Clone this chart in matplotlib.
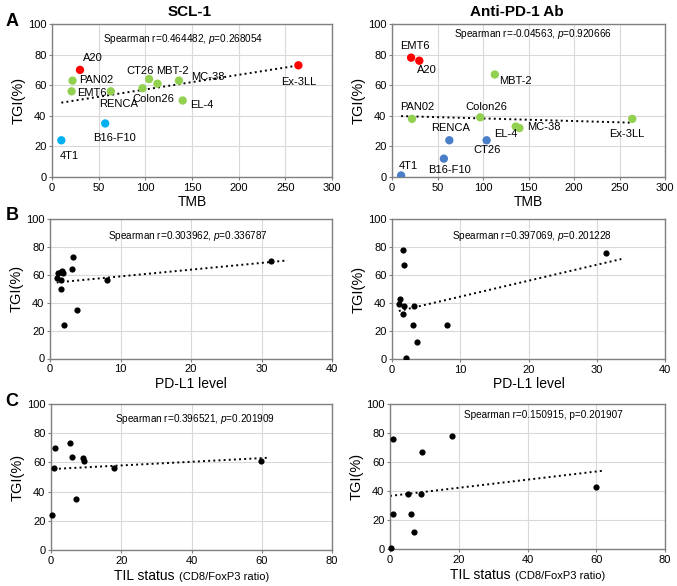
import numpy as np
import matplotlib
matplotlib.use('Agg')
import matplotlib.pyplot as plt
from matplotlib.offsetbox import TextArea, HPacker, AnnotationBbox

plt.rcParams['font.family'] = ['Liberation Sans', 'DejaVu Sans']
plt.rcParams['mathtext.fontset'] = 'custom'
plt.rcParams['mathtext.rm'] = 'Liberation Sans'
plt.rcParams['mathtext.it'] = 'Liberation Sans:italic'

# ---- data ----
models = ['4T1', 'B16-F10', 'RENCA', 'CT26', 'EL-4', 'MC-38', 'MBT-2',
          'Colon26', 'PAN02', 'EMT6', 'A20', 'Ex-3LL']
tmb = [10, 57, 63, 104, 140, 136, 113, 97, 22, 21, 30, 264]

tgi_scl = [24, 35, 56, 64, 50, 63, 61, 58, 63, 56, 70, 73]
tgi_pd1 = [1, 12, 24, 24, 32, 33, 67, 39, 38, 78, 76, 38]

col_scl = ['blue', 'blue', 'green', 'green', 'green', 'green', 'green',
           'green', 'green', 'green', 'red', 'red']
col_pd1 = ['blue', 'blue', 'blue', 'blue', 'green', 'green', 'green',
           'green', 'green', 'red', 'red', 'green']

# label positions (data coords) for panel A
lab_scl = [(8, 14), (44, 25.6), (50, 47.5), (80, 69.6), (148, 47), (149, 65.6),
           (112, 69.6), (86, 51), (29, 63.5), (27, 55), (33, 77.7), (245, 62.4)]
lab_pd1 = [(7.7, 7), (39.6, 4.4), (42.5, 31.7), (89, 17.5), (112, 28), (148, 32.4),
           (118, 62.8), (81, 45.5), (8.4, 45.5), (8.4, 85.3), (27, 70), (239, 28)]

pdl1_scl = [1.0, 1.2, 1.5, 1.7, 1.8, 1.6, 1.6, 2.0, 3.8, 3.1, 3.2, 8.1, 31.3]
tgi_b_scl = [58, 61, 62, 63, 61, 56, 50, 24, 35, 64, 73, 56, 70]
pdl1_pd1 = [1.6, 1.8, 1.1, 1.0, 1.7, 3.2, 1.6, 3.1, 8.1, 3.7, 2.0, 31.3]
tgi_b_pd1 = [78, 67, 43, 39, 38, 38, 32, 24, 24, 12, 1, 76]

til_scl = [0.3, 0.8, 1.0, 5.3, 6.0, 7.0, 9.0, 9.3, 18.0, 59.8]
tgi_c_scl = [24, 56, 70, 73, 64, 35, 63, 61, 56, 61]
til_pd1 = [0.3, 0.8, 0.8, 5.3, 6.0, 7.0, 9.0, 9.3, 18.0, 59.8]
tgi_c_pd1 = [1, 76, 24, 38, 24, 12, 38, 67, 78, 43]

# trendline end points (x0, x1), (y0, y1)
trend = {
    'A_scl': ([10, 264], [48.6, 72.9]),
    'A_pd1': ([10, 264], [39.8, 35.5]),
    'B_scl': ([0.95, 33.7], [54.5, 70.3]),
    'B_pd1': ([1.0, 33.6], [34.3, 71.4]),
    'C_scl': ([0.8, 62], [55.5, 63.2]),
    'C_pd1': ([0, 62], [36.6, 54.0]),
}

stats = {
    'A_scl': r'Spearman r=0.464482, $\it{p}$=0.268054',
    'A_pd1': r'Spearman r=-0.04563, $\it{p}$=0.920666',
    'B_scl': r'Spearman r=0.303962, $\it{p}$=0.336787',
    'B_pd1': r'Spearman r=0.397069, $\it{p}$=0.201228',
    'C_scl': r'Spearman r=0.396521, $\it{p}$=0.201909',
    'C_pd1': 'Spearman r=0.150915, p=0.201907',
}
stat_pos = {'A_scl': (140, 90), 'A_pd1': (155, 93.6), 'B_scl': (19.5, 88),
            'B_pd1': (20.5, 88), 'C_scl': (41, 89.5), 'C_pd1': (44.5, 92.4)}

colors_scl = {'red': '#FF0000', 'green': '#92D050', 'blue': '#00B0F0'}
colors_pd1 = {'red': '#FF0000', 'green': '#92D050', 'blue': '#4A7EC7'}

fig = plt.figure(figsize=(6.77, 5.86), dpi=100)
W, H = 677, 586


def make_ax(l, r, t, b):
    return fig.add_axes([l / W, 1 - b / H, (r - l) / W, (b - t) / H])


def style(ax, xmax, xstep):
    ax.set_xlim(0, xmax)
    ax.set_ylim(0, 100)
    ax.set_xticks(np.arange(0, xmax + 1, xstep))
    ax.set_yticks(np.arange(0, 101, 20))
    ax.grid(True, color='#D9D9D9', lw=0.8)
    ax.set_axisbelow(True)
    for s in ax.spines.values():
        s.set_color('#808080')
        s.set_linewidth(1.0)
    ax.tick_params(labelsize=8, length=2, color='#808080', pad=2)
    ax.set_ylabel('TGI(%)', fontsize=10.5, labelpad=2)


axA1 = make_ax(52, 332, 24, 177)
axA2 = make_ax(392, 665, 24, 177)
axB1 = make_ax(50, 332, 219, 358.5)
axB2 = make_ax(392, 665, 219, 359)
axC1 = make_ax(51, 332, 404, 550)
axC2 = make_ax(390, 665, 404, 549)

# panel A
for ax, tgi, cols, cmap, labs, key in [
        (axA1, tgi_scl, col_scl, colors_scl, lab_scl, 'A_scl'),
        (axA2, tgi_pd1, col_pd1, colors_pd1, lab_pd1, 'A_pd1')]:
    style(ax, 300, 50)
    ax.scatter(tmb, tgi, s=36, c=[cmap[c] for c in cols], zorder=3, linewidths=0)
    for name, (lx, ly) in zip(models, labs):
        ax.text(lx, ly, name, fontsize=8, va='center', ha='left')
    ax.plot(*trend[key], ls=':', color='black', lw=1.4, zorder=2)
    ax.text(*stat_pos[key], stats[key], fontsize=7.2, ha='center', va='center')
    ax.set_xlabel('TMB', fontsize=10, labelpad=2)

# panel B
for ax, x, y, key in [(axB1, pdl1_scl, tgi_b_scl, 'B_scl'),
                      (axB2, pdl1_pd1, tgi_b_pd1, 'B_pd1')]:
    style(ax, 40, 10)
    ax.scatter(x, y, s=20, c='black', zorder=3, linewidths=0)
    ax.plot(*trend[key], ls=':', color='black', lw=1.4, zorder=2)
    ax.text(*stat_pos[key], stats[key], fontsize=7.2, ha='center', va='center')
    ax.set_xlabel('PD-L1 level', fontsize=10, labelpad=2)

# panel C
for ax, x, y, key in [(axC1, til_scl, tgi_c_scl, 'C_scl'),
                      (axC2, til_pd1, tgi_c_pd1, 'C_pd1')]:
    style(ax, 80, 20)
    ax.scatter(x, y, s=20, c='black', zorder=3, linewidths=0, clip_on=False)
    ax.plot(*trend[key], ls=':', color='black', lw=1.4, zorder=2)
    ax.text(*stat_pos[key], stats[key], fontsize=7.2, ha='center', va='center')
    box = HPacker(children=[TextArea('TIL status ', textprops=dict(fontsize=10)),
                            TextArea('(CD8/FoxP3 ratio)', textprops=dict(fontsize=8))],
                  align='baseline', pad=0, sep=0)
    ab = AnnotationBbox(box, (0.5, -0.18), xycoords='axes fraction', frameon=False,
                        box_alignment=(0.5, 0.5))
    ax.add_artist(ab)

fig.text(190 / W, 1 - 12 / H, 'SCL-1', fontsize=11, fontweight='bold', ha='center', va='center')
fig.text(517 / W, 1 - 12 / H, 'Anti-PD-1 Ab', fontsize=11, fontweight='bold', ha='center', va='center')
for letter, y in [('A', 22), ('B', 215), ('C', 402)]:
    fig.text(12 / W, 1 - y / H, letter, fontsize=13, fontweight='bold', ha='center', va='center')

fig.savefig('out.png', dpi=100)
